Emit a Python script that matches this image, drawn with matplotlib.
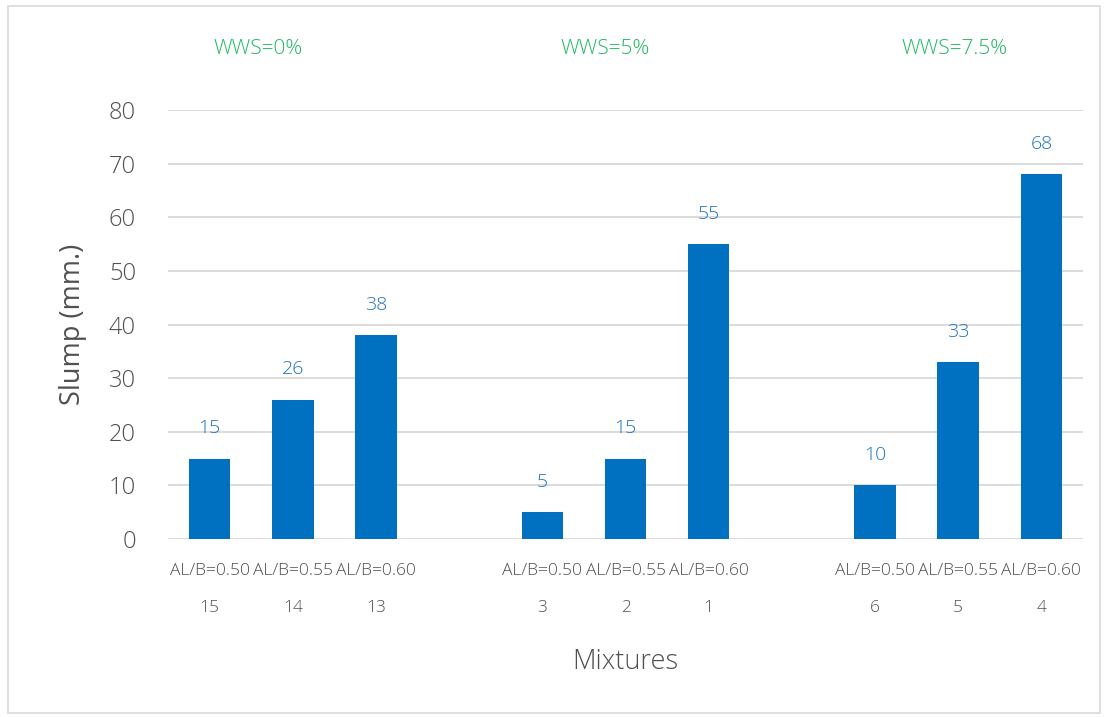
import matplotlib
matplotlib.use("Agg")
import matplotlib.pyplot as plt
from matplotlib.patches import Rectangle
import matplotlib.transforms as mtransforms

plt.rcParams['font.family'] = ['Open Sans', 'DejaVu Sans']
plt.rcParams['font.weight'] = 300

# Mixture groups: WWS content, AL/B ratio, mixture number, slump (mm)
groups = ["WWS=0%", "WWS=5%", "WWS=7.5%"]
ratios = ["AL/B=0.50", "AL/B=0.55", "AL/B=0.60"]
mixture_ids = [["15", "14", "13"], ["3", "2", "1"], ["6", "5", "4"]]
slump = [[15, 26, 38], [5, 15, 55], [10, 33, 68]]

bar_color = "#0070C0"
label_color = "#1F72C0"
group_color = "#1DB860"
text_gray = "#505050"

fig = plt.figure(figsize=(11.08, 7.17), dpi=100)
fig.patches.append(Rectangle((8 / 1108, 1 - 713 / 717), 1092 / 1108, 707 / 717,
                             transform=fig.transFigure, fill=False,
                             edgecolor="#D9D9D9", linewidth=1.2))

ax = fig.add_axes([168 / 1108, 1 - 539 / 717, 915 / 1108, 429 / 717])

# Each group takes three slots followed by one empty slot
positions = []
for g in range(len(groups)):
    for k in range(len(ratios)):
        positions.append(g * 4 + k)

values = [v for row in slump for v in row]
bars = ax.bar(positions, values, width=0.5, color=bar_color, zorder=3)
for x, v in zip(positions, values):
    ax.text(x, v + 4, f"{v}", ha="center", va="bottom", fontsize=14,
            color=label_color)

ax.set_xlim(-0.5, 10.5)
ax.set_ylim(0, 80)
ax.set_yticks(range(0, 81, 10))
ax.yaxis.grid(True, color="#D9D9D9", linewidth=1.3, zorder=0)
ax.set_axisbelow(True)
for s in ax.spines.values():
    s.set_visible(False)
ax.tick_params(axis="y", length=0, pad=23, labelsize=17, labelcolor=text_gray)
ax.tick_params(axis="x", length=0)
ax.set_xticks([])

trans = mtransforms.blended_transform_factory(ax.transData, ax.transAxes)
for g in range(len(groups)):
    for k in range(len(ratios)):
        x = g * 4 + k
        ax.text(x, -0.075, ratios[k], transform=trans, ha="center", va="center",
                fontsize=12.5, color=text_gray)
        ax.text(x, -0.16, mixture_ids[g][k], transform=trans, ha="center",
                va="center", fontsize=12.5, color=text_gray)

group_x = [0.58, 4.75, 8.96]
for gx, name in zip(group_x, groups):
    ax.text(gx, 1.143, name, transform=trans, ha="center", va="center",
            fontsize=15, color=group_color)

ax.set_ylabel("Slump (mm.)", fontsize=19.5, color=text_gray, labelpad=16)
fig.text(625 / 1108, 1 - 662 / 717, "Mixtures", ha="center", va="center",
         fontsize=19.5, color=text_gray)

fig.savefig("out.png", dpi=100)
